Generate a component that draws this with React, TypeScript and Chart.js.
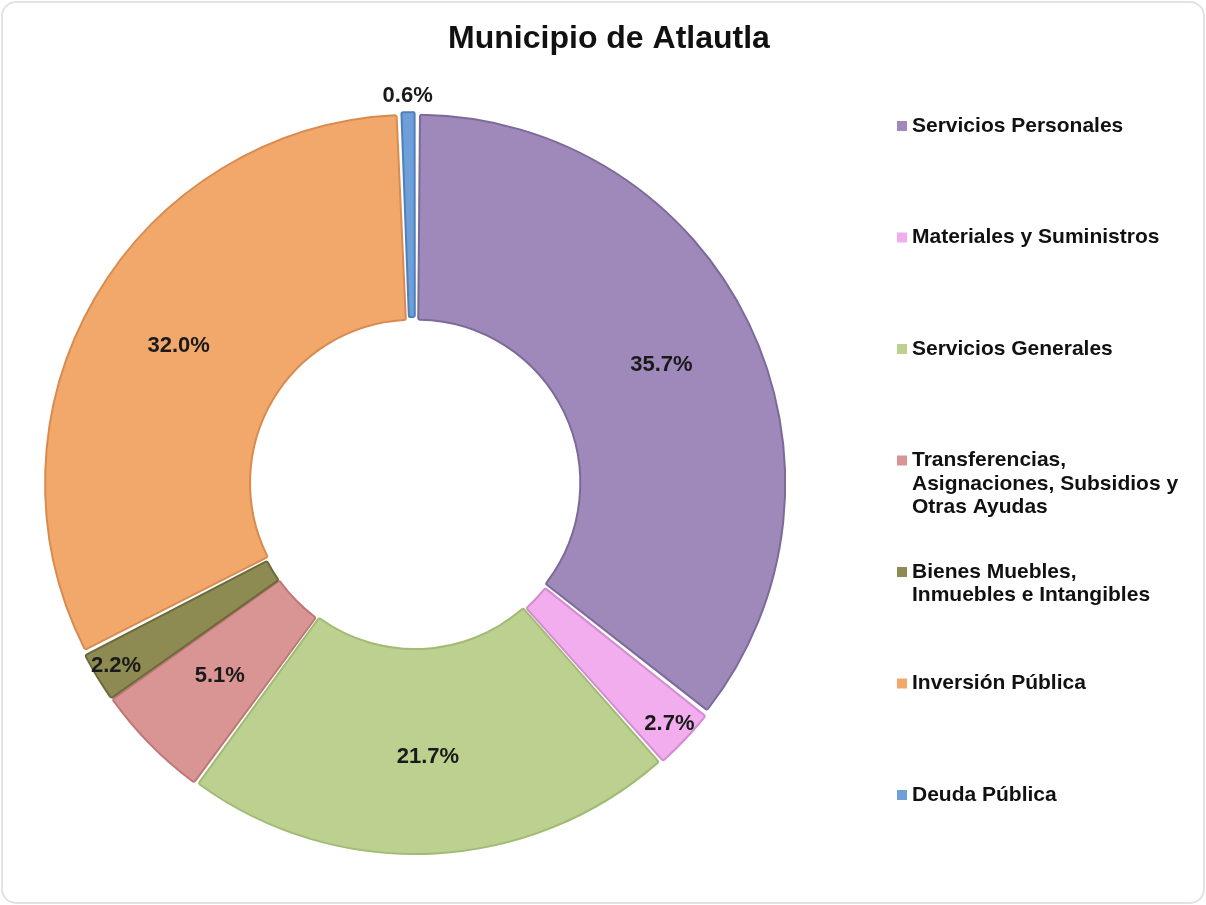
import React, { useEffect, useRef } from "react";
import { Chart, registerables } from "chart.js";

Chart.register(...registerables);

const chartTitle = "Municipio de Atlautla";
const categories = [
  "Servicios Personales",
  "Materiales y Suministros",
  "Servicios Generales",
  "Transferencias,\nAsignaciones, Subsidios y\nOtras Ayudas",
  "Bienes Muebles,\nInmuebles e Intangibles",
  "Inversión Pública",
  "Deuda Pública",
];
const shares = [35.7, 2.7, 21.7, 5.1, 2.2, 32.0, 0.6];
const fillColors = ["#9e89ba", "#f1adee", "#bcd08f", "#d99594", "#8d8a52", "#f2a86b", "#6e9fd8"];
const edgeColors = ["#7c6a99", "#d58bd1", "#a2bb74", "#bd7776", "#6c6a3a", "#d98b4f", "#4f80ba"];

const FONT = '"Liberation Sans", Arial, Helvetica, sans-serif';

const framePlugin = {
  id: "frame",
  beforeDraw(chart: any) {
    const { ctx, width, height } = chart;
    ctx.save();
    ctx.fillStyle = "#ffffff";
    ctx.fillRect(0, 0, width, height);
    ctx.strokeStyle = "#e2e2e2";
    ctx.lineWidth = 2;
    ctx.beginPath();
    (ctx as any).roundRect(2, 2, width - 4, height - 4, 14);
    ctx.stroke();
    ctx.restore();
  },
};

const titlePlugin = {
  id: "customTitle",
  afterDraw(chart: any) {
    const { ctx } = chart;
    ctx.save();
    ctx.font = `bold 32px ${FONT}`;
    ctx.fillStyle = "#111111";
    ctx.textAlign = "center";
    ctx.textBaseline = "middle";
    ctx.fillText(chartTitle, 609, 39);
    ctx.restore();
  },
};

const legendPlugin = {
  id: "sideLegend",
  afterDraw(chart: any) {
    const { ctx } = chart;
    const labels: string[] = chart.data.labels;
    const colors: string[] = chart.data.datasets[0].backgroundColor;
    const x0 = 897;
    const y0 = 126;
    const step = 111.5;
    const lineH = 23.5;
    ctx.save();
    ctx.font = `bold 21px ${FONT}`;
    ctx.textBaseline = "middle";
    ctx.textAlign = "left";
    labels.forEach((lab, i) => {
      const y = y0 + i * step;
      ctx.fillStyle = colors[i];
      ctx.fillRect(x0, y - 5, 10, 10);
      ctx.fillStyle = "#111111";
      lab.split("\n").forEach((line, j) => {
        ctx.fillText(line, x0 + 15, y + j * lineH);
      });
    });
    ctx.restore();
  },
};

const valueLabelPlugin = {
  id: "valueLabels",
  afterDatasetsDraw(chart: any) {
    const { ctx } = chart;
    const meta = chart.getDatasetMeta(0);
    const values: number[] = chart.data.datasets[0].data;
    ctx.save();
    ctx.font = `bold 22px ${FONT}`;
    ctx.fillStyle = "#1a1a1a";
    ctx.textAlign = "center";
    ctx.textBaseline = "middle";
    meta.data.forEach((arc: any, i: number) => {
      const p = arc.getProps(["x", "y", "startAngle", "endAngle", "innerRadius", "outerRadius"], true);
      const mid = (p.startAngle + p.endAngle) / 2;
      const v = values[i];
      let r;
      if (v < 1) r = p.outerRadius + 22;
      else if (v < 3) r = p.outerRadius - 16;
      else r = (p.innerRadius + p.outerRadius) / 2 + 10;
      const x = p.x + Math.cos(mid) * r;
      const y = p.y + Math.sin(mid) * r;
      ctx.fillText(v.toFixed(1) + "%", x, y);
    });
    ctx.restore();
  },
};

export default function App() {
  const ref = useRef<HTMLCanvasElement | null>(null);

  useEffect(() => {
    document.body.style.margin = "0";
    if (!ref.current) return;
    const chart = new Chart(ref.current, {
      type: "doughnut",
      data: {
        labels: categories,
        datasets: [
          {
            data: shares,
            backgroundColor: fillColors,
            borderColor: edgeColors,
            borderWidth: 2,
            borderRadius: 2,
            offset: 8,
            spacing: 4,
          },
        ],
      },
      options: {
        responsive: false,
        animation: false,
        devicePixelRatio: 1,
        cutout: "44%",
        rotation: 0,
        layout: { padding: { left: 42, right: 418, top: 111, bottom: 48 } },
        plugins: {
          legend: { display: false },
          title: { display: false },
          tooltip: { enabled: false },
        },
      },
      plugins: [framePlugin, titlePlugin, legendPlugin, valueLabelPlugin],
    });
    return () => chart.destroy();
  }, []);

  return (
    <canvas
      ref={ref}
      width={1206}
      height={905}
      style={{ display: "block", width: 1206, height: 905 }}
    />
  );
}
